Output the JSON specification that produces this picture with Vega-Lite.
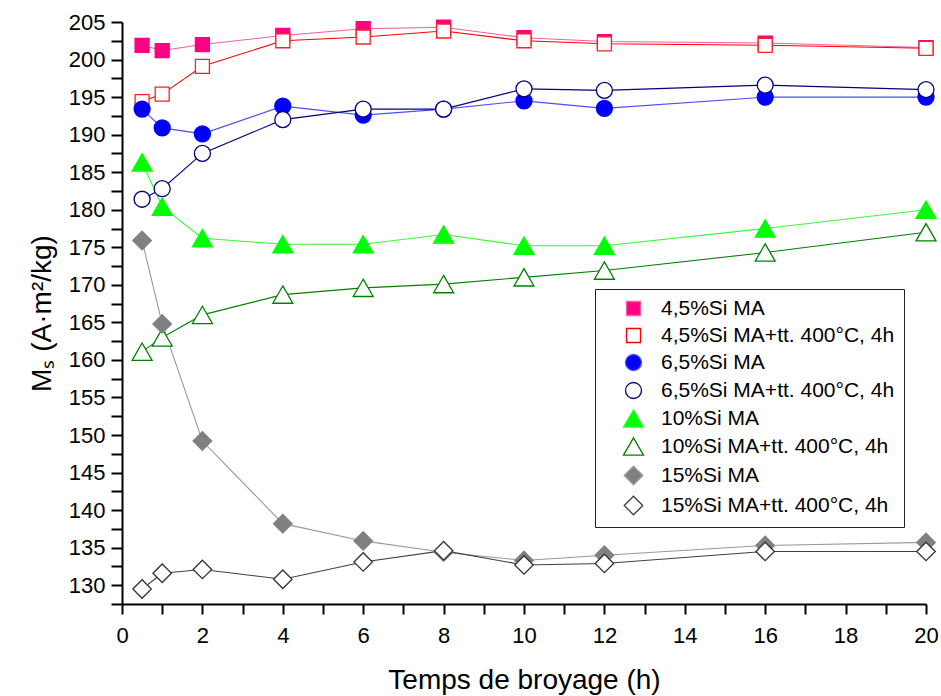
{
  "$schema": "https://vega.github.io/schema/vega-lite/v6.json",
  "width": 804,
  "height": 582,
  "autosize": "none",
  "padding": {"left": 122, "top": 22, "right": 15, "bottom": 92},
  "background": "white",
  "config": {
    "view": {"stroke": null},
    "font": "Liberation Sans",
    "axis": {
      "labelFont": "Liberation Sans",
      "titleFont": "Liberation Sans",
      "labelColor": "black",
      "titleColor": "black",
      "domainColor": "black",
      "tickColor": "black",
      "domainWidth": 2,
      "tickWidth": 2,
      "grid": false,
      "titleFontWeight": "normal",
      "labelFontSize": 22,
      "titleFontSize": 28
    }
  },
  "data": {
    "values": [
      {"t": 0.5, "s": "4,5%Si MA", "m": 201.9},
      {"t": 1, "s": "4,5%Si MA", "m": 201.2},
      {"t": 2, "s": "4,5%Si MA", "m": 202.0},
      {"t": 4, "s": "4,5%Si MA", "m": 203.2},
      {"t": 6, "s": "4,5%Si MA", "m": 204.1},
      {"t": 8, "s": "4,5%Si MA", "m": 204.3},
      {"t": 10, "s": "4,5%Si MA", "m": 202.9},
      {"t": 12, "s": "4,5%Si MA", "m": 202.4},
      {"t": 16, "s": "4,5%Si MA", "m": 202.2},
      {"t": 20, "s": "4,5%Si MA", "m": 201.6},
      {"t": 0.5, "s": "4,5%Si MA+tt. 400°C, 4h", "m": 194.4},
      {"t": 1, "s": "4,5%Si MA+tt. 400°C, 4h", "m": 195.4},
      {"t": 2, "s": "4,5%Si MA+tt. 400°C, 4h", "m": 199.1},
      {"t": 4, "s": "4,5%Si MA+tt. 400°C, 4h", "m": 202.5},
      {"t": 6, "s": "4,5%Si MA+tt. 400°C, 4h", "m": 203.0},
      {"t": 8, "s": "4,5%Si MA+tt. 400°C, 4h", "m": 203.8},
      {"t": 10, "s": "4,5%Si MA+tt. 400°C, 4h", "m": 202.5},
      {"t": 12, "s": "4,5%Si MA+tt. 400°C, 4h", "m": 202.1},
      {"t": 16, "s": "4,5%Si MA+tt. 400°C, 4h", "m": 201.9},
      {"t": 20, "s": "4,5%Si MA+tt. 400°C, 4h", "m": 201.5},
      {"t": 0.5, "s": "6,5%Si MA", "m": 193.4},
      {"t": 1, "s": "6,5%Si MA", "m": 190.9},
      {"t": 2, "s": "6,5%Si MA", "m": 190.1},
      {"t": 4, "s": "6,5%Si MA", "m": 193.8},
      {"t": 6, "s": "6,5%Si MA", "m": 192.6},
      {"t": 8, "s": "6,5%Si MA", "m": 193.4},
      {"t": 10, "s": "6,5%Si MA", "m": 194.5},
      {"t": 12, "s": "6,5%Si MA", "m": 193.5},
      {"t": 16, "s": "6,5%Si MA", "m": 195.0},
      {"t": 20, "s": "6,5%Si MA", "m": 195.0},
      {"t": 0.5, "s": "6,5%Si MA+tt. 400°C, 4h", "m": 181.4},
      {"t": 1, "s": "6,5%Si MA+tt. 400°C, 4h", "m": 182.8},
      {"t": 2, "s": "6,5%Si MA+tt. 400°C, 4h", "m": 187.5},
      {"t": 4, "s": "6,5%Si MA+tt. 400°C, 4h", "m": 192.0},
      {"t": 6, "s": "6,5%Si MA+tt. 400°C, 4h", "m": 193.4},
      {"t": 8, "s": "6,5%Si MA+tt. 400°C, 4h", "m": 193.4},
      {"t": 10, "s": "6,5%Si MA+tt. 400°C, 4h", "m": 196.1},
      {"t": 12, "s": "6,5%Si MA+tt. 400°C, 4h", "m": 195.9},
      {"t": 16, "s": "6,5%Si MA+tt. 400°C, 4h", "m": 196.6},
      {"t": 20, "s": "6,5%Si MA+tt. 400°C, 4h", "m": 196.0},
      {"t": 0.5, "s": "10%Si MA", "m": 186.3},
      {"t": 1, "s": "10%Si MA", "m": 180.4},
      {"t": 2, "s": "10%Si MA", "m": 176.2},
      {"t": 4, "s": "10%Si MA", "m": 175.4},
      {"t": 6, "s": "10%Si MA", "m": 175.4},
      {"t": 8, "s": "10%Si MA", "m": 176.7},
      {"t": 10, "s": "10%Si MA", "m": 175.2},
      {"t": 12, "s": "10%Si MA", "m": 175.2},
      {"t": 16, "s": "10%Si MA", "m": 177.5},
      {"t": 20, "s": "10%Si MA", "m": 180.0},
      {"t": 0.5, "s": "10%Si MA+tt. 400°C, 4h", "m": 161.1},
      {"t": 1, "s": "10%Si MA+tt. 400°C, 4h", "m": 163.0},
      {"t": 2, "s": "10%Si MA+tt. 400°C, 4h", "m": 166.0},
      {"t": 4, "s": "10%Si MA+tt. 400°C, 4h", "m": 168.7},
      {"t": 6, "s": "10%Si MA+tt. 400°C, 4h", "m": 169.6},
      {"t": 8, "s": "10%Si MA+tt. 400°C, 4h", "m": 170.1},
      {"t": 10, "s": "10%Si MA+tt. 400°C, 4h", "m": 171.0},
      {"t": 12, "s": "10%Si MA+tt. 400°C, 4h", "m": 171.9},
      {"t": 16, "s": "10%Si MA+tt. 400°C, 4h", "m": 174.3},
      {"t": 20, "s": "10%Si MA+tt. 400°C, 4h", "m": 177.0},
      {"t": 0.5, "s": "15%Si MA", "m": 175.9},
      {"t": 1, "s": "15%Si MA", "m": 164.8},
      {"t": 2, "s": "15%Si MA", "m": 149.2},
      {"t": 4, "s": "15%Si MA", "m": 138.2},
      {"t": 6, "s": "15%Si MA", "m": 135.9},
      {"t": 8, "s": "15%Si MA", "m": 134.4},
      {"t": 10, "s": "15%Si MA", "m": 133.3},
      {"t": 12, "s": "15%Si MA", "m": 134.0},
      {"t": 16, "s": "15%Si MA", "m": 135.3},
      {"t": 20, "s": "15%Si MA", "m": 135.7},
      {"t": 0.5, "s": "15%Si MA+tt. 400°C, 4h", "m": 129.5},
      {"t": 1, "s": "15%Si MA+tt. 400°C, 4h", "m": 131.6},
      {"t": 2, "s": "15%Si MA+tt. 400°C, 4h", "m": 132.1},
      {"t": 4, "s": "15%Si MA+tt. 400°C, 4h", "m": 130.8},
      {"t": 6, "s": "15%Si MA+tt. 400°C, 4h", "m": 133.1},
      {"t": 8, "s": "15%Si MA+tt. 400°C, 4h", "m": 134.6},
      {"t": 10, "s": "15%Si MA+tt. 400°C, 4h", "m": 132.7},
      {"t": 12, "s": "15%Si MA+tt. 400°C, 4h", "m": 132.9},
      {"t": 16, "s": "15%Si MA+tt. 400°C, 4h", "m": 134.5},
      {"t": 20, "s": "15%Si MA+tt. 400°C, 4h", "m": 134.5}
    ]
  },
  "encoding": {
    "x": {
      "field": "t", "type": "quantitative",
      "scale": {"domain": [0, 20], "nice": false, "zero": false},
      "axis": {
        "title": "Temps de broyage (h)",
        "values": [0,1,2,3,4,5,6,7,8,9,10,11,12,13,14,15,16,17,18,19,20],
        "labelExpr": "datum.value % 2 === 0 ? datum.label : ''",
        "tickSize": 10,
        "labelPadding": 11,
        "labelFlush": false,
        "labelOverlap": false,
        "titlePadding": 20,
        "encode": {"ticks": {"update": {"y2": {"signal": "datum.value % 2 === 0 ? 10 : 6"}}}}
      }
    },
    "y": {
      "field": "m", "type": "quantitative",
      "scale": {"domain": [127.5, 205], "nice": false, "zero": false},
      "axis": {
        "title": "Mₛ (A·m²/kg)",
        "values": [127.5,130,132.5,135,137.5,140,142.5,145,147.5,150,152.5,155,157.5,160,162.5,165,167.5,170,172.5,175,177.5,180,182.5,185,187.5,190,192.5,195,197.5,200,202.5,205],
        "labelExpr": "datum.value % 5 === 0 ? datum.label : ''",
        "tickSize": 11,
        "labelPadding": 6,
        "labelFlush": false,
        "labelOverlap": false,
        "titlePadding": 12,
        "encode": {"ticks": {"update": {"x2": {"signal": "datum.value % 5 === 0 ? -11 : -6"}}}}
      }
    }
  },
  "layer": [
    {
      "mark": {"type": "line", "strokeWidth": 1.1},
      "encoding": {
        "color": {
          "field": "s", "type": "nominal",
          "scale": {
            "domain": ["4,5%Si MA", "4,5%Si MA+tt. 400°C, 4h", "6,5%Si MA", "6,5%Si MA+tt. 400°C, 4h", "10%Si MA", "10%Si MA+tt. 400°C, 4h", "15%Si MA", "15%Si MA+tt. 400°C, 4h"],
            "range": ["#ff5aa8", "#ff0000", "#4d4dff", "#000080", "#33ff33", "#008000", "#999999", "#404040"]
          },
          "legend": {
            "title": null, "orient": "none", "legendX": 473, "legendY": 267,
            "strokeColor": "#222222", "fillColor": "white", "padding": 9,
            "labelFont": "Liberation Sans", "labelFontSize": 21, "labelColor": "black", "labelLimit": 400,
            "symbolSize": 100, "symbolStrokeWidth": 1.3, "symbolOffset": 19, "labelOffset": 17, "rowPadding": 5,
            "encode": {"symbols": {"update": {"shape": {"signal": "datum.index < 2 ? 'M-1.4,-1.4H1.4V1.4H-1.4Z M-5,0H-1.4 M1.4,0H5' : datum.index < 4 ? 'M-1.6,0A1.6,1.6,0,1,1,1.6,0A1.6,1.6,0,1,1,-1.6,0Z M-5,0H-1.6 M1.6,0H5' : datum.index < 6 ? 'M0,-1.732L2,1.732L-2,1.732Z M-5,0H-1 M1,0H5' : 'M-1.85,0L0,-1.85L1.85,0L0,1.85Z M-5,0H-1.85 M1.85,0H5'"}}}}
          }
        }
      }
    },
    {
      "mark": {"type": "point", "filled": true, "opacity": 1, "strokeWidth": 1.3, "size": 100},
      "encoding": {
        "fill": {
          "field": "s", "type": "nominal",
          "scale": {
            "domain": ["4,5%Si MA", "4,5%Si MA+tt. 400°C, 4h", "6,5%Si MA", "6,5%Si MA+tt. 400°C, 4h", "10%Si MA", "10%Si MA+tt. 400°C, 4h", "15%Si MA", "15%Si MA+tt. 400°C, 4h"],
            "range": ["#ff0080", "#ffffff", "#0000ff", "#ffffff", "#00ff00", "#ffffff", "#808080", "#ffffff"]
          },
          "legend": null
        },
        "stroke": {
          "field": "s", "type": "nominal",
          "scale": {
            "domain": ["4,5%Si MA", "4,5%Si MA+tt. 400°C, 4h", "6,5%Si MA", "6,5%Si MA+tt. 400°C, 4h", "10%Si MA", "10%Si MA+tt. 400°C, 4h", "15%Si MA", "15%Si MA+tt. 400°C, 4h"],
            "range": ["#ff0080", "#ff2020", "#0000ff", "#000080", "#00ff00", "#008000", "#808080", "#333333"]
          },
          "legend": null
        },
        "shape": {
          "field": "s", "type": "nominal",
          "scale": {
            "domain": ["4,5%Si MA", "4,5%Si MA+tt. 400°C, 4h", "6,5%Si MA", "6,5%Si MA+tt. 400°C, 4h", "10%Si MA", "10%Si MA+tt. 400°C, 4h", "15%Si MA", "15%Si MA+tt. 400°C, 4h"],
            "range": ["M-1.4,-1.4H1.4V1.4H-1.4Z", "M-1.4,-1.4H1.4V1.4H-1.4Z", "M-1.6,0A1.6,1.6,0,1,1,1.6,0A1.6,1.6,0,1,1,-1.6,0Z", "M-1.6,0A1.6,1.6,0,1,1,1.6,0A1.6,1.6,0,1,1,-1.6,0Z", "M0,-1.732L2,1.732L-2,1.732Z", "M0,-1.732L2,1.732L-2,1.732Z", "M-1.85,0L0,-1.85L1.85,0L0,1.85Z", "M-1.85,0L0,-1.85L1.85,0L0,1.85Z"]
          },
          "legend": null
        }
      }
    }
  ]
}
